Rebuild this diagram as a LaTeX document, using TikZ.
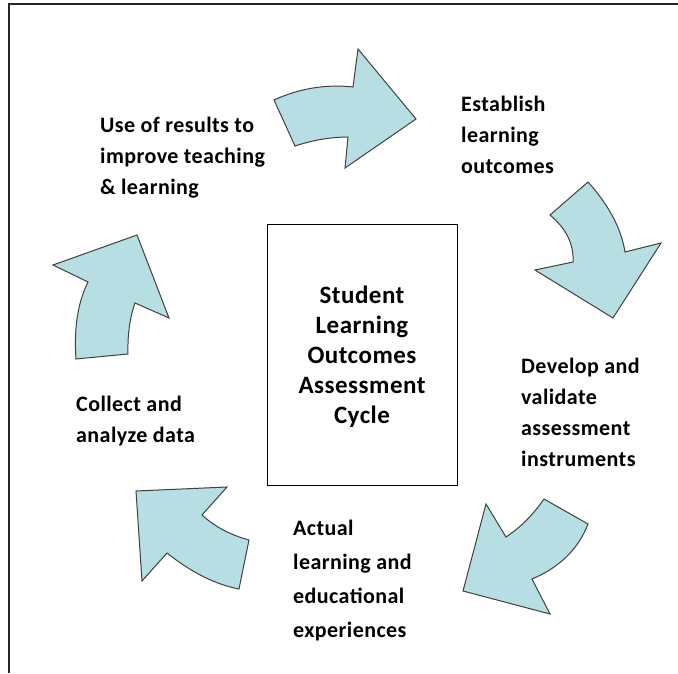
\documentclass[tikz,border=0pt]{standalone}
\usepackage{fontspec}
\setmainfont{Carlito}[LetterSpace=2]
\begin{document}
\begin{tikzpicture}[x=1pt,y=-1pt,
  cyc/.style={fill=arrowfill,draw=arrowline,line width=1pt,line join=miter},
  lbl/.style={anchor=west,inner sep=0pt,align=left,font=\fontsize{22}{31}\selectfont\bfseries},
  ctr/.style={inner sep=0pt,align=center,font=\fontsize{25}{30}\selectfont\bfseries}]
\definecolor{arrowfill}{RGB}{183,222,226}
\definecolor{arrowline}{RGB}{64,64,64}
\useasboundingbox (0,0) rectangle (678,673);
% frame (top and left edges only)
\coordinate (ftr) at (678,4);
\coordinate (ftl) at (9,4);
\coordinate (fbl) at (9,673);
\draw[line width=1.3pt,black!85] (ftr) -- (ftl) -- (fbl);
% center box
\node[draw,line width=1pt,minimum width=190pt,minimum height=261pt] (box) at (362,354.5) {};
\node[ctr] (title) at (362,357) {Student\\Learning\\Outcomes\\Assessment\\Cycle};
% arrows
\draw[cyc] (274,100) .. controls (299.7,88.3) and (326,84) .. (353,87) -- (358,49) -- (416,119) -- (345,168) -- (348,137) .. controls (330.6,137.1) and (312.9,140.1) .. (295,146) -- cycle;
\draw[cyc] (588,182) .. controls (609,205.3) and (621.3,228.7) .. (625,252) -- (661,243) -- (613,318) -- (535,270) -- (573,262) .. controls (574,244.3) and (566.3,228.7) .. (550,215) -- cycle;
\draw[cyc] (588,524) .. controls (578.2,549.2) and (559.5,567.5) .. (532,579) -- (550,614) -- (463,591) -- (486,504) -- (506,537) .. controls (520.9,527) and (533.5,514.3) .. (544,499) -- cycle;
\draw[cyc] (239,589) .. controls (215.5,584.5) and (191.5,572.5) .. (167,553) -- (142,581) -- (136,491) -- (227,487) -- (202,515) .. controls (214.8,526.7) and (230.5,535) .. (249,540) -- cycle;
\draw[cyc] (76,359) .. controls (73.8,328.2) and (77.8,302.5) .. (88,282) -- (53,265) -- (137,235) -- (169,318) -- (135,303) .. controls (129.8,317.5) and (127.5,334.5) .. (128,354) -- cycle;
% labels
\node[lbl] (l1) at (100,157.5) {Use of results to\\improve teaching\\\& learning};
\node[lbl] (l2) at (461,134.5) {Establish\\learning\\outcomes};
\node[lbl] (l3) at (521,412.5) {Develop and\\validate\\assessment\\instruments};
\node[lbl,font=\fontsize{22}{34}\selectfont\bfseries] (l4) at (293,581) {Actual\\learning and\\educational\\experiences};
\node[lbl] (l5) at (76,421) {Collect and\\analyze data};
\end{tikzpicture}
\end{document}
